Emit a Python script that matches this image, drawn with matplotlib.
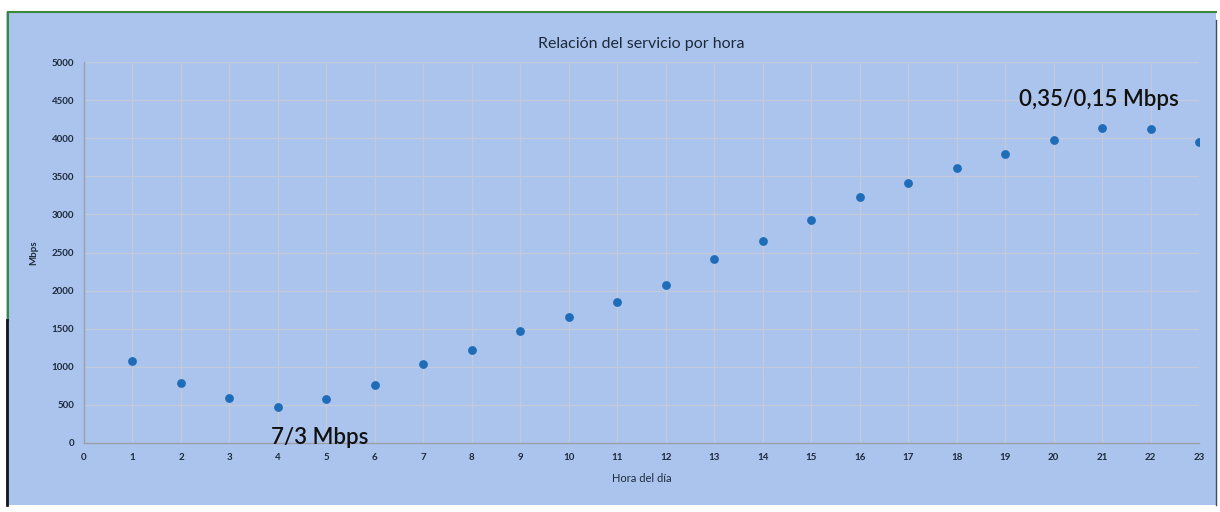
import numpy as np
import matplotlib.pyplot as plt
from matplotlib.patches import Rectangle

# Hourly service data
HOURS = list(range(1, 24))
MBPS = [1070, 790, 595, 475, 580, 765, 1040, 1220, 1470, 1650, 1850, 2080,
        2410, 2645, 2920, 3225, 3410, 3605, 3790, 3975, 4135, 4120, 3945]

X_TICKS = list(range(0, 24))
Y_TICKS = list(range(0, 5001, 500))

TITLE = "Relación del servicio por hora"
X_LABEL = "Hora del día"
Y_LABEL = "Mbps"
NOTE_LOW = "7/3 Mbps"
NOTE_HIGH = "0,35/0,15 Mbps"

BG = "#abc4ee"
DOT = "#1f6cb8"
TXT = "#1c2a3a"

plt.rcParams["font.family"] = ["Lato", "DejaVu Sans"]

fig = plt.figure(figsize=(12.2, 5.12), dpi=100)
fig.patch.set_facecolor("white")

# scanned page: blue chart area with green frame on top/left
fig.patches.append(Rectangle((6 / 1220, 7 / 512), 1210 / 1220, 493 / 512,
                             transform=fig.transFigure, facecolor=BG,
                             edgecolor="none", zorder=-10))
fig.add_artist(plt.Line2D([8 / 1220, 1216 / 1220], [1 - 12 / 512, 1 - 12 / 512],
                          transform=fig.transFigure, color="#3a8a3a", lw=1.5))
fig.add_artist(plt.Line2D([8 / 1220, 8 / 1220], [1 - 12 / 512, 1 - 320 / 512],
                          transform=fig.transFigure, color="#3a8a3a", lw=1.5))
fig.add_artist(plt.Line2D([7 / 1220, 7 / 1220], [1 - 320 / 512, 1 - 505 / 512],
                          transform=fig.transFigure, color="#101820", lw=2))
fig.add_artist(plt.Line2D([1216 / 1220, 1216 / 1220], [1 - 20 / 512, 1 - 505 / 512],
                          transform=fig.transFigure, color="#404a60", lw=1))

ax = fig.add_axes([84 / 1220, 1 - 443 / 512, 1115 / 1220, 381 / 512])
ax.set_facecolor("none")

ax.scatter(HOURS, MBPS, s=40, color=DOT, zorder=3, linewidths=0)

ax.set_xlim(0, 23)
ax.set_ylim(0, 5000)
ax.set_xticks(X_TICKS)
ax.set_yticks(Y_TICKS)
ax.tick_params(length=0, labelsize=7, colors=TXT, pad=7)
for lbl in ax.get_xticklabels() + ax.get_yticklabels():
    lbl.set_fontweight("bold")
ax.grid(True, color="#c3cbdb", lw=0.9)
ax.set_axisbelow(True)
for side in ["top", "right"]:
    ax.spines[side].set_visible(False)
for side in ["left", "bottom"]:
    ax.spines[side].set_color("#9aa0a8")
    ax.spines[side].set_linewidth(1)

ax.set_title(TITLE, fontsize=11.5, color=TXT, pad=10)
ax.set_xlabel(X_LABEL, fontsize=8, color=TXT, labelpad=8)
ax.set_ylabel(Y_LABEL, fontsize=7, color=TXT, labelpad=10, fontweight="bold")

ax.annotate(NOTE_LOW, xy=(4, 0), xytext=(320, 75), textcoords="figure pixels",
            fontsize=16, fontweight="semibold", color="#111111",
            ha="center", va="center")
ax.annotate(NOTE_HIGH, xy=(21, 0), xytext=(1099, 412), textcoords="figure pixels",
            fontsize=16, fontweight="semibold", color="#111111",
            ha="center", va="center")

fig.savefig("out.png", dpi=100, facecolor=fig.get_facecolor())
